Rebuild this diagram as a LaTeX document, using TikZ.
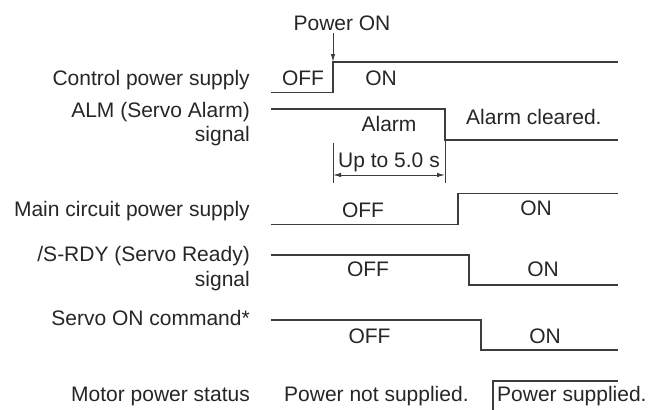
\documentclass[tikz,border=0pt]{standalone}
\usepackage{fontspec}
\setmainfont{Liberation Sans}
\usetikzlibrary{arrows.meta}
\definecolor{ink}{HTML}{262626}
\tikzset{
  lbl/.style={anchor=base east, inner sep=0pt, text=ink},
  txt/.style={anchor=base, inner sep=0pt, text=ink},
  txtl/.style={anchor=base west, inner sep=0pt, text=ink},
  wave/.style={draw=ink!90, line width=1.3pt, line join=miter},
  dim/.style={draw=ink!90, line width=1pt},
  tip/.style={-{Latex[length=8pt,width=4.5pt]}},
}
\begin{document}
\begin{tikzpicture}[x=1pt,y=-1pt,font=\fontsize{21}{25}\selectfont]
\useasboundingbox (0,0) rectangle (649,410);
% labels
\node[lbl] (lcp) at (250,85) {Control power supply};
\node[lbl] (lalm1) at (250,117.3) {ALM (Servo Alarm)};
\node[lbl] (lalm2) at (250,141) {signal};
\node[lbl] (lmain) at (250,216.5) {Main circuit power supply};
\node[lbl] (lrdy1) at (250,261.7) {/S-RDY (Servo Ready)};
\node[lbl] (lrdy2) at (250,286.5) {signal};
\node[lbl] (lson) at (250,325) {Servo ON command*};
\node[lbl] (lmot) at (250,401) {Motor power status};
% power on
\node[txt] (pon) at (342,30) {Power ON};
\coordinate (rise) at (333,62);
\coordinate (arrtop) at (333,33);
\draw[dim,tip] (arrtop) -- (rise);
% waveforms
\draw[wave] (271,92.5) -- (333,92.5) -- (rise) -- (618,62);
\draw[wave] (271,109) -- (445,109) -- (445,140) -- (618,140);
\draw[wave] (271,224.3) -- (458,224.3) -- (458,193.3) -- (618,193.3);
\draw[wave] (271,255) -- (469,255) -- (469,285) -- (618,285);
\draw[wave] (271,320) -- (481,320) -- (481,350) -- (618,350);
\draw[wave] (493,410) -- (493,381) -- (618,381);
% state texts
\node[txt] (coff) at (303,85) {OFF};
\node[txt] (con) at (381,85) {ON};
\node[txt] (alarm) at (389,131.7) {Alarm};
\node[txtl] (aclr) at (466,124.5) {Alarm cleared.};
\node[txt] (moff) at (363,217.5) {OFF};
\node[txt] (mon) at (536,215.5) {ON};
\node[txt] (roff) at (368,276) {OFF};
\node[txt] (ron) at (543,276) {ON};
\node[txt] (soff) at (369.5,343.3) {OFF};
\node[txt] (son) at (545,343.3) {ON};
\node[txtl] (pns) at (284,401) {Power not supplied.};
\node[txtl] (ps) at (497,401) {Power supplied.};
% dimension
\coordinate (d1t) at (333,143);
\coordinate (d1b) at (333,183);
\coordinate (d2t) at (445,141);
\coordinate (d2b) at (445,183);
\draw[dim] (d1t) -- (d1b);
\draw[dim] (d2t) -- (d2b);
\coordinate (da) at (333,175);
\coordinate (db) at (445,175);
\draw[dim,{Latex[length=8pt,width=4.5pt]}-{Latex[length=8pt,width=4.5pt]}] (da) -- (db);
\node[txt] (upto) at (389,167.5) {Up to 5.0 s};
\end{tikzpicture}
\end{document}
